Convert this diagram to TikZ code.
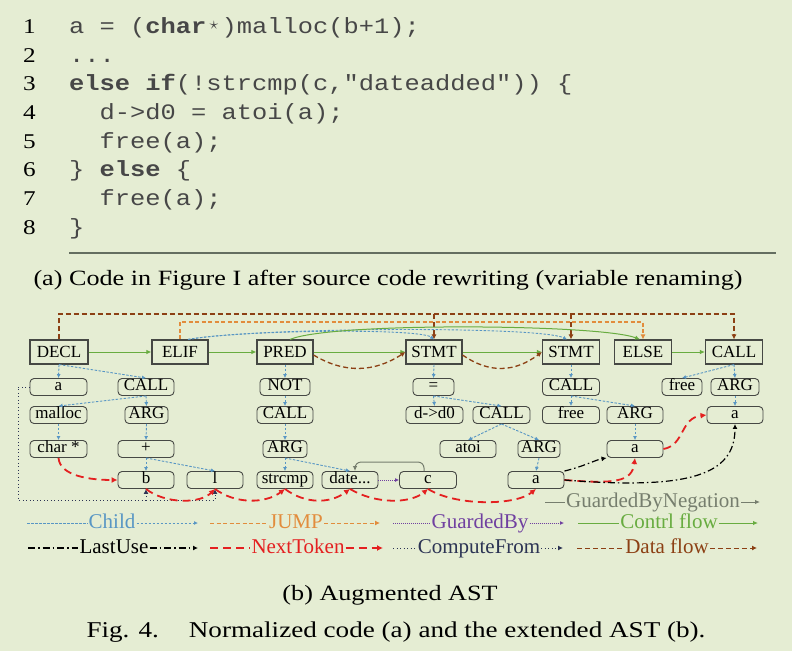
\documentclass[tikz,border=0pt]{standalone}
\usepackage{fontspec}
\setmainfont{Liberation Serif}
\newfontfamily\capfont{Liberation Serif}[FakeStretch=1.2]
\newfontfamily\codefont{Liberation Mono}[FakeStretch=1.155]
\usetikzlibrary{arrows.meta}
\definecolor{bgcol}{RGB}{229,237,211}
\definecolor{boxgray}{RGB}{70,72,68}
\definecolor{childblue}{RGB}{88,150,196}
\definecolor{jumporange}{RGB}{226,140,60}
\definecolor{gbypurple}{RGB}{112,64,160}
\definecolor{ctrlgreen}{RGB}{104,172,64}
\definecolor{nextred}{RGB}{228,32,32}
\definecolor{cfnavy}{RGB}{44,52,84}
\definecolor{dfbrown}{RGB}{140,64,20}
\definecolor{gneggray}{RGB}{118,126,110}
\definecolor{rulegray}{RGB}{100,110,96}
\newcommand{\cstar}{\makebox[15.2pt]{\raisebox{3.5pt}{\scalebox{0.85}{$\star$}}}}
\begin{document}
\begin{tikzpicture}[x=1pt,y=-1pt,
	stmtbox/.style={draw=boxgray,line width=1.1pt,minimum width=56pt,minimum height=24pt,inner sep=0pt,text height=11.5pt,text depth=0pt,font=\fontsize{17}{17}\selectfont},
	tok/.style={draw=boxgray,line width=0.9pt,rounded corners=4pt,minimum width=56pt,minimum height=17pt,inner sep=0pt,text height=11pt,text depth=4pt,font=\fontsize{17}{17}\selectfont},
	codeln/.style={anchor=base west,inner sep=0pt,text=black!72,font=\codefont\fontsize{22}{22}\selectfont},
	lnum/.style={anchor=base east,inner sep=0pt,font=\capfont\fontsize{21}{21}\selectfont},
	capt/.style={anchor=base,inner sep=0pt,font=\capfont\fontsize{21.8}{21.8}\selectfont},
	legtxt/.style={inner sep=1pt,text height=14pt,text depth=4pt,font=\fontsize{21}{21}\selectfont},
	child/.style={draw=childblue,line width=0.9pt,dash pattern=on 2.5pt off 1.5pt,-{Latex[length=4pt,width=4pt]}},
	jump/.style={draw=jumporange,line width=1.4pt,dash pattern=on 4pt off 2.5pt,-{Latex[length=5pt,width=5pt]}},
	gby/.style={draw=gbypurple,line width=0.9pt,dash pattern=on 1pt off 1pt,-{Latex[length=4pt,width=4pt]}},
	ctrl/.style={draw=ctrlgreen,line width=1pt,-{Latex[length=5pt,width=4.5pt]}},
	lastuse/.style={draw=black,line width=1.2pt,dash pattern=on 7pt off 3pt on 1.5pt off 3pt,-{Latex[length=5pt,width=5pt]}},
	nexttok/.style={draw=nextred,line width=1.8pt,dash pattern=on 8pt off 5pt,-{Latex[length=6pt,width=6pt]}},
	cfrom/.style={draw=cfnavy,line width=1pt,dash pattern=on 1pt off 2.5pt,-{Latex[length=5pt,width=5pt]}},
	dflow/.style={draw=dfbrown,line width=1.6pt,dash pattern=on 5pt off 3pt,-{Latex[length=5pt,width=5pt]}},
	gneg/.style={draw=gneggray,line width=1pt,-{Latex[length=5pt,width=4.5pt]}}]
	\fill[bgcol](0,0) rectangle (792,651);
	\useasboundingbox (0,0) rectangle (792,651);
	
	% code listing
	\node[lnum] (n1) at (36,33.3) {1};
	\node[lnum] (n2) at (36,62) {2};
	\node[lnum] (n3) at (36,90.7) {3};
	\node[lnum] (n4) at (36,119.4) {4};
	\node[lnum] (n5) at (36,148.1) {5};
	\node[lnum] (n6) at (36,176.8) {6};
	\node[lnum] (n7) at (36,205.5) {7};
	\node[lnum] (n8) at (36,234.2) {8};
	\node[codeln] (l1) at (69,33.3) {a = (\textbf{char}\cstar)malloc(b+1);};
	\node[codeln] (l2) at (69,62) {...};
	\node[codeln] (l3) at (69,90.7) {\textbf{else} \textbf{if}(!strcmp(c,"dateadded")) \{};
	\node[codeln] (l4) at (69,119.4) {\phantom{xx}d->d0 = atoi(a);};
	\node[codeln] (l5) at (69,148.1) {\phantom{xx}free(a);};
	\node[codeln] (l6) at (69,176.8) {\} \textbf{else} \{};
	\node[codeln] (l7) at (69,205.5) {\phantom{xx}free(a);};
	\node[codeln] (l8) at (69,234.2) {\}};
	\draw[rulegray,line width=1.5pt](69,253)--(776,253);
	\node[capt] (capa) at (388,285) {(a) Code in Figure I after source code rewriting (variable renaming)};
	
	% statement level
	\node[stmtbox,minimum width=58pt] (decl) at (59,352) {DECL};
	\node[stmtbox] (elif) at (180,352) {ELIF};
	\node[stmtbox] (pred) at (285,352) {PRED};
	\node[stmtbox] (stmtA) at (434,352) {STMT};
	\node[stmtbox,minimum width=57pt] (stmtB) at (571,352) {STMT};
	\node[stmtbox,minimum width=57pt] (else) at (643,352) {ELSE};
	\node[stmtbox,minimum width=57pt] (callE) at (734,352) {CALL};
	
	% tokens
	\node[tok,minimum width=57pt] (a1) at (58.5,387) {a};
	\node[tok] (call1) at (146,387) {CALL};
	\node[tok,minimum width=57pt] (malloc) at (58.5,415) {malloc};
	\node[tok,minimum width=43pt] (arg1) at (146.5,415) {ARG};
	\node[tok,minimum width=57pt] (chr) at (58.5,449) {char *};
	\node[tok] (plus) at (146,449) {+};
	\node[tok] (b) at (146,480) {b};
	\node[tok] (l) at (215,480) {l};
	
	\node[tok,minimum width=50pt] (not) at (285,387) {NOT};
	\node[tok] (call2) at (285,415) {CALL};
	\node[tok,minimum width=44pt] (arg2) at (285,449) {ARG};
	\node[tok] (strcmp) at (285,480) {strcmp};
	\node[tok] (date) at (350,480) {date...};
	\node[tok,minimum width=57pt] (c) at (428,480) {c};
	
	\node[tok,minimum width=41pt] (eq) at (433.5,387) {=};
	\node[tok,minimum width=57pt] (dd) at (434.5,415) {d->d0};
	\node[tok,minimum width=57pt] (call4) at (501.5,415) {CALL};
	\node[tok] (atoi) at (468,449) {atoi};
	\node[tok,minimum width=42pt] (arg5) at (539,449) {ARG};
	\node[tok] (a3) at (536,480) {a};
	
	\node[tok,minimum width=57pt] (call3) at (571,387) {CALL};
	\node[tok,minimum width=57pt] (free1) at (571,415) {free};
	\node[tok] (arg3) at (635,415) {ARG};
	\node[tok] (a4) at (635,449) {a};
	\node[tok,minimum width=40pt] (free2) at (682,387) {free};
	\node[tok,minimum width=48pt] (arg4) at (735,387) {ARG};
	\node[tok] (a5) at (735,415) {a};
	
	% data flow and jump on top
	\coordinate (dfl) at (0,314);
	\coordinate (jfl) at (0,322);
	\draw[dflow] (decl.north) |- (callE.north |- dfl) -- (callE.north);
	\draw[dflow] (stmtA.north |- dfl) -- (stmtA.north);
	\draw[dflow] (stmtB.north |- dfl) -- (stmtB.north);
	\draw[jump] (elif.north) |- (else.north |- jfl) -- (else.north);
	\draw[child] ([xshift=8pt]elif.north) .. controls (240,330) and (420,328) .. (stmtA.north);
	\draw[child] ([xshift=8pt]elif.north) .. controls (260,327) and (540,326) .. ([xshift=-4pt]stmtB.north);
	\draw[ctrl] ([xshift=5pt]pred.north) .. controls (330,322) and (600,324) .. ([xshift=-3pt]else.north);
	
	% control flow
	\draw[ctrl] (decl) -- (elif);
	\draw[ctrl] (elif) -- (pred);
	\draw[ctrl] (pred) -- (stmtA);
	\draw[ctrl] (stmtA) -- (stmtB);
	\draw[ctrl] (else) -- (callE);
	\draw[dflow,line width=1.3pt] ([yshift=-3pt]pred.east) .. controls (345,374) and (375,372) .. (stmtA.west);
	\draw[dflow,line width=1.3pt] ([yshift=-3pt]stmtA.east) .. controls (490,374) and (515,372) .. (stmtB.west);
	
	% children
	\draw[child] (decl.south) -- (a1.north);
	\draw[child] (decl.south) -- (call1.north);
	\draw[child] (call1.south) -- (malloc.north);
	\draw[child] (call1.south) -- (arg1.north);
	\draw[child] (malloc.south) -- (chr.north);
	\draw[child] (arg1.south) -- (plus.north);
	\draw[child] (plus.south) -- (b.north);
	\draw[child] (plus.south) -- (l.north);
	\draw[child] (pred.south) -- (not.north);
	\draw[child] (not.south) -- (call2.north);
	\draw[child] (call2.south) -- (arg2.north);
	\draw[child] (arg2.south) -- (strcmp.north);
	\draw[child] (arg2.south) -- (date.north);
	\draw[child] (stmtA.south) -- (eq.north);
	\draw[child] (eq.south) -- (dd.north);
	\draw[child] (eq.south) -- (call4.north);
	\draw[child] (call4.south) -- (atoi.north);
	\draw[child] (call4.south) -- (arg5.north);
	\draw[child] (arg5.south) -- (a3.north);
	\draw[child] (stmtB.south) -- (call3.north);
	\draw[child] (call3.south) -- (free1.north);
	\draw[child] (call3.south) -- (arg3.north);
	\draw[child] (arg3.south) -- (a4.north);
	\draw[child] (callE.south) -- (free2.north);
	\draw[child] (callE.south) -- (arg4.north);
	\draw[child] (arg4.south) -- (a5.north);
	
	% guards and compute-from
	\draw[gneg,rounded corners=6pt] ([xshift=-4pt]c.north) -- ++(0,-9) -| ([xshift=5pt]date.north);
	\draw[gby] (date) -- (c);
	\coordinate (cfc) at (18,500);
	\draw[cfrom] (a1.west) -| (cfc) -| (b.south);
	\draw[cfrom] (b.south |- cfc) -| (l.south);
	
	% next token
	\draw[nexttok] (chr.south) .. controls (60,476) and (90,480) .. (b.west);
	\draw[nexttok] (b.south) .. controls (165,504) and (200,504) .. (l.south);
	\draw[nexttok] (l.south) .. controls (235,504) and (265,504) .. (strcmp.south);
	\draw[nexttok] (strcmp.south) .. controls (305,504) and (330,504) .. (date.south);
	\draw[nexttok] (date.south) .. controls (375,504) and (410,504) .. (c.south);
	\draw[nexttok] (c.south) .. controls (455,506) and (515,506) .. (a3.south);
	\draw[nexttok] (a3.east) .. controls (615,484) and (632,482) .. (a4.south);
	\draw[nexttok] (a4.east) .. controls (685,445) and (680,418) .. (a5.west);
	
	% last use
	\draw[lastuse] (a3.north east) .. controls (585,466) and (595,460) .. (a4.south west);
	\draw[lastuse] (a3.east) .. controls (690,490) and (735,475) .. (a5.south);
	
	% legend
	\node[legtxt,text=gneggray] (lgneg) at (653,502) {GuardedByNegation};
	\coordinate (lgnegA) at (545,502);
	\coordinate (lgnegB) at (760,502);
	\draw[gneg,-] (lgnegA) -- (lgneg);
	\draw[gneg] (lgneg) -- (lgnegB);
	
	\node[legtxt,text=childblue] (lgchild) at (112,523) {Child};
	\coordinate (lgchildA) at (27,523);
	\coordinate (lgchildB) at (198,523);
	\draw[child,-] (lgchildA) -- (lgchild);
	\draw[child] (lgchild) -- (lgchildB);
	
	\node[legtxt,text=jumporange] (lgjump) at (296,523) {JUMP};
	\coordinate (lgjumpA) at (210,523);
	\coordinate (lgjumpB) at (380,523);
	\draw[jump,line width=1pt,-] (lgjumpA) -- (lgjump);
	\draw[jump,line width=1pt] (lgjump) -- (lgjumpB);
	
	\node[legtxt,text=gbypurple] (lggby) at (480,523) {GuardedBy};
	\coordinate (lggbyA) at (393,523);
	\coordinate (lggbyB) at (564,523);
	\draw[gby,-] (lggbyA) -- (lggby);
	\draw[gby] (lggby) -- (lggbyB);
	
	\node[legtxt,text=ctrlgreen] (lgctrl) at (669,523) {Contrl flow};
	\coordinate (lgctrlA) at (578,523);
	\coordinate (lgctrlB) at (758,523);
	\draw[ctrl,-] (lgctrlA) -- (lgctrl);
	\draw[ctrl] (lgctrl) -- (lgctrlB);
	
	\node[legtxt] (lglast) at (114,548) {LastUse};
	\coordinate (lglastA) at (28,548);
	\coordinate (lglastB) at (198,548);
	\draw[lastuse,-] (lglastA) -- (lglast);
	\draw[lastuse] (lglast) -- (lglastB);
	
	\node[legtxt,text=nextred] (lgnext) at (298,548) {NextToken};
	\coordinate (lgnextA) at (210,548);
	\coordinate (lgnextB) at (383,548);
	\draw[nexttok,line width=1.2pt,-] (lgnextA) -- (lgnext);
	\draw[nexttok,line width=1.2pt] (lgnext) -- (lgnextB);
	
	\node[legtxt,text=cfnavy] (lgcf) at (479,548) {ComputeFrom};
	\coordinate (lgcfA) at (393,548);
	\coordinate (lgcfB) at (563,548);
	\draw[cfrom,-] (lgcfA) -- (lgcf);
	\draw[cfrom] (lgcf) -- (lgcfB);
	
	\node[legtxt,text=dfbrown] (lgdf) at (667,548) {Data flow};
	\coordinate (lgdfA) at (577,548);
	\coordinate (lgdfB) at (757,548);
	\draw[dflow,line width=1pt,-] (lgdfA) -- (lgdf);
	\draw[dflow,line width=1pt] (lgdf) -- (lgdfB);
	
	% captions
	\node[capt] (capb) at (390,600) {(b) Augmented AST};
	\node[capt,font=\capfont\fontsize{22.6}{22.6}\selectfont] (figcap) at (396,637) {Fig. 4.\hspace{30pt}Normalized code (a) and the extended AST (b).};
\end{tikzpicture}
\end{document}
